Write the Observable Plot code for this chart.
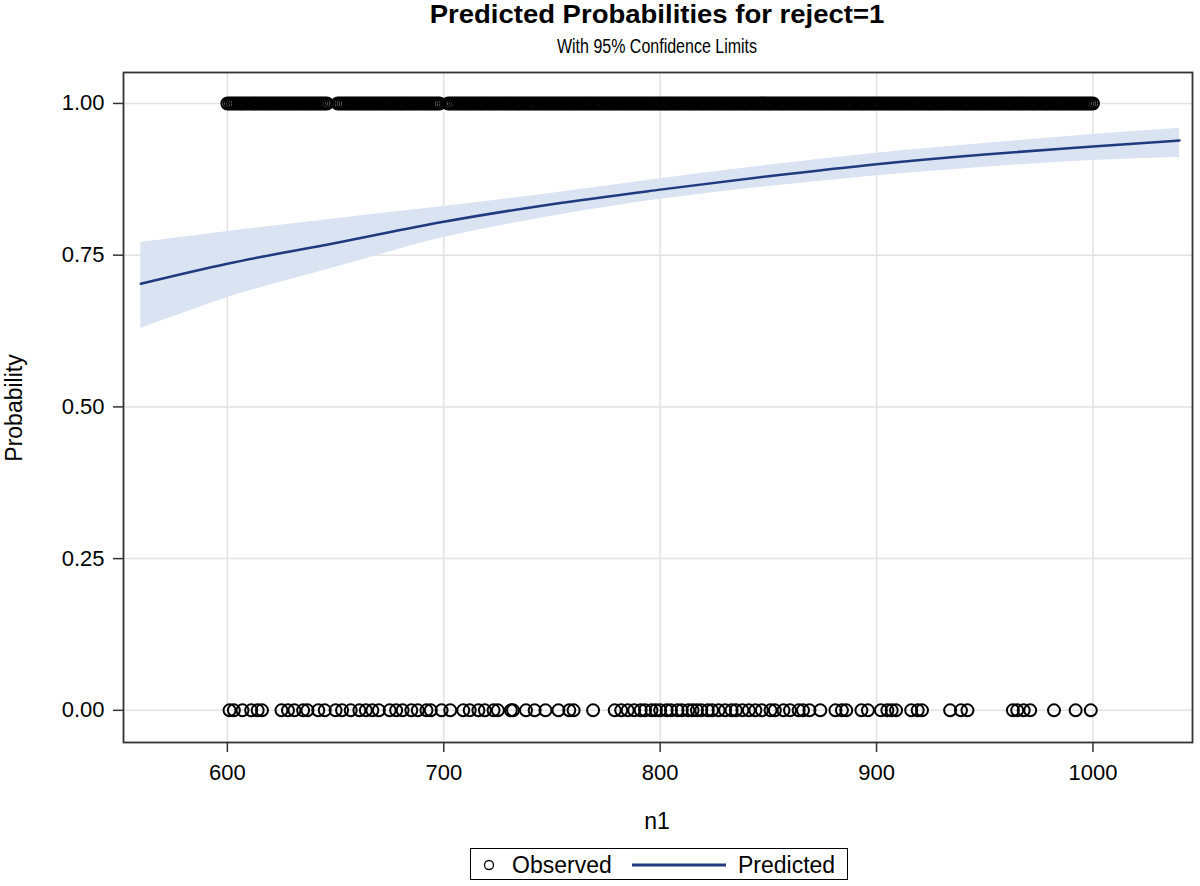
<!DOCTYPE html>
<html><head><meta charset="utf-8">
<script src="https://cdn.jsdelivr.net/npm/d3@7"></script>
<script src="https://cdn.jsdelivr.net/npm/@observablehq/plot@0.6"></script>
<style>
body{margin:0;background:#fff;font-family:"Liberation Sans",Arial,sans-serif;}
#wrap{position:relative;width:1200px;height:886px;overflow:hidden;}
#chart{position:absolute;left:0;top:0;}
.t{position:absolute;white-space:nowrap;color:#000;line-height:1;}
#legend{position:absolute;left:470px;top:848px;width:378px;height:32px;border:1.5px solid #000;box-sizing:border-box;}
</style></head><body>
<div id="wrap">
<div id="chart"></div>
<div class="t" style="left:0;width:1314px;text-align:center;top:2px;font-size:25px;font-weight:bold;transform:scaleX(1.1);transform-origin:657px 0;">Predicted Probabilities for reject=1</div>
<div class="t" style="left:0;width:1314px;text-align:center;top:36px;font-size:20px;transform:scaleX(0.8);transform-origin:657px 0;">With 95% Confidence Limits</div>
<div class="t" style="left:0;width:1314px;text-align:center;top:810px;font-size:23px;">n1</div>
<div class="t" style="left:14px;top:408px;font-size:23px;transform:translate(-50%,-50%) rotate(-90deg);">Probability</div>
<div id="legend">
  <svg width="378" height="32" style="position:absolute;left:0;top:0">
    <circle cx="18" cy="16" r="4.5" fill="none" stroke="#000" stroke-width="1.3"></circle>
    <line x1="161" x2="255" y1="16" y2="16" stroke="#1f3a7e" stroke-width="3"></line>
  </svg>
  <div class="t" style="left:41px;top:5px;font-size:23px;">Observed</div>
  <div class="t" style="left:267px;top:5px;font-size:23px;">Predicted</div>
</div>
</div>
<script>
// Tick values
const xTicks = [600, 700, 800, 900, 1000];
const yTicks = [0, 0.25, 0.5, 0.75, 1];

// Predicted curve with 95% confidence limits
const nGrid = [560, 600, 650, 700, 750, 800, 850, 900, 950, 1000, 1040];
const predicted = [0.703, 0.736, 0.770, 0.805, 0.834, 0.858, 0.880, 0.900, 0.916, 0.929, 0.939];
const lowerCL = [0.629, 0.680, 0.730, 0.779, 0.814, 0.842, 0.863, 0.881, 0.895, 0.906, 0.911];
const upperCL = [0.771, 0.789, 0.810, 0.830, 0.852, 0.876, 0.898, 0.918, 0.934, 0.949, 0.959];

// Observed n1 values with reject = 1 (practically every value from 600 to 1000)
const obsReject1 = [
  600,601,602,603,604,605,606,607,608,609,610,611,612,613,614,615,616,617,618,619,
  620,621,622,623,624,625,626,627,628,629,630,631,632,633,634,635,636,637,638,639,
  640,641,642,643,644,645,646,651,652,653,654,655,656,657,658,659,
  660,661,662,663,664,665,666,667,668,669,670,671,672,673,674,675,676,677,678,679,
  680,681,682,683,684,685,686,687,688,689,690,691,692,693,694,695,696,697,698,
  702,703,704,705,706,707,708,709,710,711,712,713,714,715,716,717,718,719,
  720,721,722,723,724,725,726,727,728,729,730,731,732,733,734,735,736,737,738,739,
  740,741,742,743,744,745,746,747,748,749,750,751,752,753,754,755,756,757,758,759,
  760,761,762,763,764,765,766,767,768,769,770,771,772,773,774,775,776,777,778,779,
  780,781,782,783,784,785,786,787,788,789,790,791,792,793,794,795,796,797,798,799,
  800,801,802,803,804,805,806,807,808,809,810,811,812,813,814,815,816,817,818,819,
  820,821,822,823,824,825,826,827,828,829,830,831,832,833,834,835,836,837,838,839,
  840,841,842,843,844,845,846,847,848,849,850,851,852,853,854,855,856,857,858,859,
  860,861,862,863,864,865,866,867,868,869,870,871,872,873,874,875,876,877,878,879,
  880,881,882,883,884,885,886,887,888,889,890,891,892,893,894,895,896,897,898,899,
  900,901,902,903,904,905,906,907,908,909,910,911,912,913,914,915,916,917,918,919,
  920,921,922,923,924,925,926,927,928,929,930,931,932,933,934,935,936,937,938,939,
  940,941,942,943,944,945,946,947,948,949,950,951,952,953,954,955,956,957,958,959,
  960,961,962,963,964,965,966,967,968,969,970,971,972,973,974,975,976,977,978,979,
  980,981,982,983,984,985,986,987,988,989,990,991,992,993,994,995,996,997,998,999,1000
];

// Observed n1 values with reject = 0
const obsReject0 = [601,603,607,611,614,616,625,628,631,635,637,642,645,650,653,657,661,664,667,670,675,678,681,685,688,692,694,699,703,709,712,716,719,723,725,731,732,738,742,747,753,758,760,769,779,782,785,788,791,793,796,798,800,803,805,808,810,813,815,817,819,822,824,827,830,833,835,838,841,844,847,851,853,857,860,864,866,869,874,881,884,886,893,896,902,905,907,909,916,919,921,934,939,942,963,965,968,971,982,992,999];

const curve = nGrid.map((n, i) => ({n, p: predicted[i], lo: lowerCL[i], hi: upperCL[i]}));
const obs = [
  ...obsReject1.map(n => ({n, r: 1})),
  ...obsReject0.map(n => ({n, r: 0}))
];

const chart = Plot.plot({
  width: 1200, height: 886,
  marginLeft: 123, marginRight: 8, marginTop: 72, marginBottom: 144,
  style: {fontFamily: '"Liberation Sans",Arial,sans-serif', fontSize: "22px", color: "#000", background: "#fff"},
  x: {domain: [552, 1046]},
  y: {domain: [-0.053, 1.051]},
  marks: [
    Plot.gridX(xTicks, {stroke: "#e2e2e2", strokeOpacity: 1, strokeWidth: 1.5}),
    Plot.gridY(yTicks, {stroke: "#e2e2e2", strokeOpacity: 1, strokeWidth: 1.5}),
    Plot.areaY(curve, {x: "n", y1: "lo", y2: "hi", fill: "#dae3f2", fillOpacity: 1, curve: "monotone-x"}),
    Plot.line(curve, {x: "n", y: "p", stroke: "#1f3a7e", strokeWidth: 2.5, curve: "monotone-x"}),
    Plot.dot(obs, {x: "n", y: "r", r: 6, stroke: "#000", strokeWidth: 2, fill: "none"}),
    Plot.axisX(xTicks, {tickSize: 10, tickPadding: 12, label: null, fontSize: 22, tickFormat: d => String(d), stroke: "#333", strokeWidth: 1.5}),
    Plot.axisY(yTicks, {tickSize: 10, tickPadding: 9, label: null, fontSize: 22, tickFormat: d3.format(".2f"), stroke: "#333", strokeWidth: 1.5}),
    Plot.frame({stroke: "#333", strokeWidth: 1.8})
  ]
});
document.getElementById("chart").appendChild(chart);
</script>
</body></html>
